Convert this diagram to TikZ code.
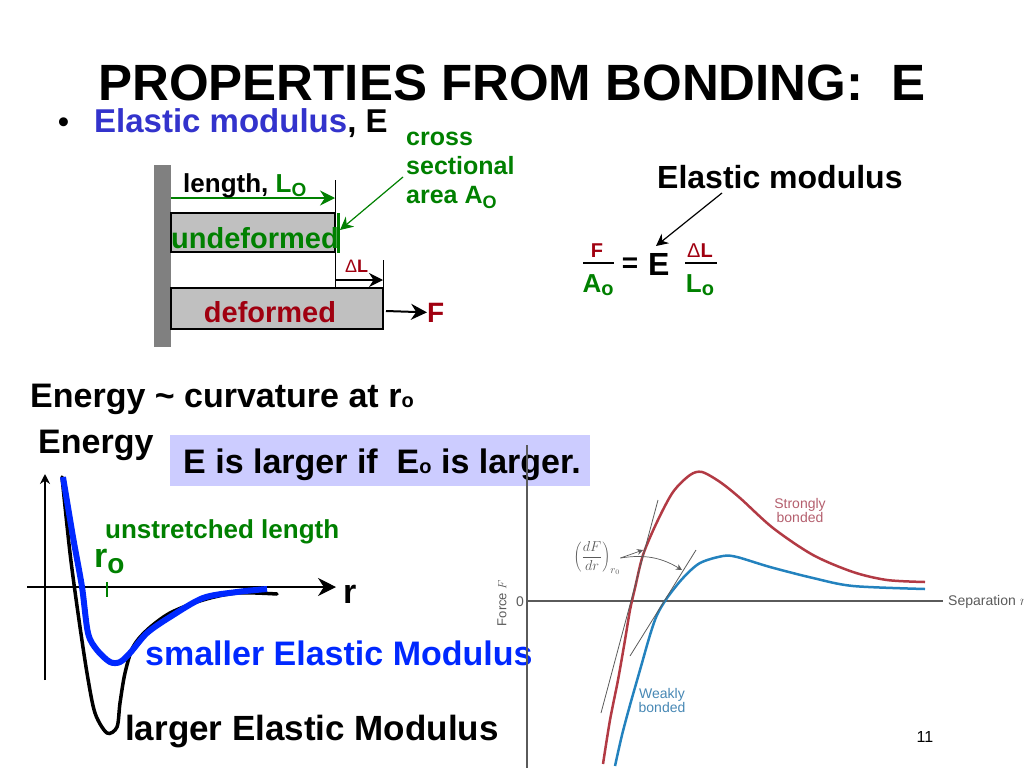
\documentclass[tikz,border=0pt]{standalone}
\usepackage{fontspec}
\setmainfont{Liberation Sans}
\usepackage{xcolor}
\usetikzlibrary{arrows,arrows.meta,positioning}
\definecolor{titleblue}{RGB}{51,51,204}
\definecolor{smallblue}{RGB}{0,40,255}
\definecolor{dgreen}{RGB}{0,128,0}
\definecolor{dred}{RGB}{160,0,16}
\definecolor{lav}{RGB}{204,204,255}
\definecolor{barfill}{RGB}{192,192,192}
\definecolor{wallfill}{RGB}{128,128,128}
\definecolor{sred}{RGB}{178,58,68}
\definecolor{sblue}{RGB}{35,130,190}
\definecolor{axgray}{RGB}{90,90,90}
\definecolor{stxt}{RGB}{180,95,110}
\definecolor{wtxt}{RGB}{70,135,180}
\newcommand{\fsz}[1]{\fontsize{#1}{#1}\selectfont}

\begin{document}
\begin{tikzpicture}[x=1pt,y=-1pt,>=stealth',
  txt/.style={inner sep=0pt,anchor=base west,font=\bfseries\fsz{#1}},
  plain/.style={inner sep=0pt,font=\fsz{#1}},
  bar/.style={draw=black,line width=1.2pt,fill=barfill},
  head/.style={-{Stealth[length=#1,width=#1]}}]
\useasboundingbox (0,0) rectangle (1024,768);
%%%TITLE
\node[txt=51,anchor=base] (title) at (512,100) {PROPERTIES FROM BONDING:\ \ E};
\node[txt=31] (bullet) at (58,132) {\textbullet};
\node[txt=33] (modulus) at (94,132) {\textcolor{titleblue}{Elastic modulus}, E};
%%%BARS
\fill[wallfill] (154,165) rectangle (171,347);
\draw[bar] (171,213) rectangle (335,252);
\draw[bar] (171,288) rectangle (383,329);
\draw[line width=1pt] (335,180) -- (335,288);
\draw[line width=1pt] (383,260) -- (383,329);
\coordinate (lenA) at (171,198);
\coordinate (lenB) at (335,198);
\draw[dgreen,line width=1.5pt,head=15pt] (lenA) -- (lenB);
\draw[dgreen,line width=3pt] (338,213) -- (338,253);
\node[txt=26] (len) at (183,192) {length, \textcolor{dgreen}{L\raisebox{-4pt}{\fsz{19}O}}};
\node[txt=29,text=dgreen] (undef) at (171,248) {undeformed};
\node[txt=29,text=dred,anchor=base] (def) at (270,322) {deformed};
\node[txt=18,text=dred] (dL) at (345,272) {{\mdseries Δ}L};
\coordinate (dLa) at (335,280);
\coordinate (dLb) at (383,280);
\draw[line width=1.2pt,head=14pt] (dLa) -- (dLb);
\node[txt=28,text=dred] (F) at (427,322) {F};
\coordinate (Fa) at (386,311);
\draw[line width=2pt,head=16pt] (Fa) -- (F.west);
\node[txt=25,text=dgreen,align=left] (area) at (406,203) {cross\\[4pt]sectional\\[4pt]area A\raisebox{-5pt}{\fsz{18}O}};
\coordinate (areaTail) at (403,177);
\coordinate (sect) at (340,230);
\draw[dgreen,line width=1.2pt,head=13pt] (areaTail) -- (sect);
%%%FORMULA
\node[txt=32] (elmod) at (657,188) {Elastic modulus};
\node[txt=20,text=dred,anchor=base] (Fnum) at (597,257) {F};
\node[txt=26,text=dgreen,anchor=base] (Aden) at (598,292) {A\raisebox{-3pt}{\fsz{20}o}};
\draw[line width=2.5pt] (583,263) -- (614,263);
\node[txt=28,anchor=base] (eq) at (630,272) {=};
\node[txt=32] (Emod) at (648,275) {E};
\node[txt=20,text=dred,anchor=base] (dLnum) at (700,257) {{\mdseries Δ}L};
\node[txt=26,text=dgreen,anchor=base] (Lden) at (700,292) {L\raisebox{-3pt}{\fsz{20}o}};
\draw[line width=2.5pt] (685,263) -- (717,263);
\coordinate (elTail) at (722,193);
\coordinate (elTip) at (656,246);
\draw[line width=1.2pt,head=12pt] (elTail) -- (elTip);
%%%ENERGY CURVE
\node[txt=34] (curv) at (30,407) {Energy \textasciitilde{} curvature at r{\fsz{20}o}};
\node[txt=34] (energy) at (38,453) {Energy};
\node[fill=lav,minimum width=420pt,minimum height=51pt,anchor=north west,inner sep=0pt] (note) at (170,435) {};
\node[txt=34] (notetxt) at (183,473) {E is larger if\ \ E{\fsz{20}o} is larger.};
\coordinate (yb) at (45,680);
\coordinate (yt) at (45,474);
\draw[line width=1.2pt,head=10pt] (yb) -- (yt);
\coordinate (xl) at (27,587);
\coordinate (xr) at (336,587);
\draw[line width=1.2pt,head=18pt] (xl) -- (xr);
\node[txt=34] (r) at (343,603) {r};
\node[txt=26,text=dgreen] (unstr) at (105,538) {unstretched length};
\node[txt=34,text=dgreen] (ro) at (94,567) {r\raisebox{-6pt}{\fsz{28}o}};
\draw[dgreen,line width=1.5pt] (107,582) -- (107,597);
\draw[line width=3.5pt,line cap=round] plot[smooth] coordinates {(62,477) (70,553) (78,613) (87,673) (95,713) (107,733) (117,727) (120,703) (125,673) (133,647) (147,630) (170,613) (203,600) (237,593) (277,594)};
\draw[smallblue,line width=6pt] plot[smooth] coordinates {(63,477) (73,537) (82,587) (88,633) (97,650) (110,662) (120,662) (130,653) (147,633) (170,617) (203,598) (237,592) (267,589)};
\node[txt=34,text=smallblue] (small) at (145,665) {smaller Elastic Modulus};
\node[txt=35] (large) at (125,740) {larger Elastic Modulus};
%%%FORCE PLOT
\draw[axgray,line width=1.2pt] (527,445) -- (527,768);
\draw[axgray,line width=1.2pt] (527,601) -- (943,601);
\node[plain=14,text=axgray] (zero) at (520,602) {0};
\node[plain=13,text=axgray,rotate=90] (force) at (502,603) {Force $F$};
\node[plain=14,text=axgray,anchor=west] (sep) at (948,602) {Separation $r$};
\draw[sred,line width=2.5pt] plot[smooth] coordinates {(603,764) (610,720) (618,680) (625,640) (630,610) (635,588) (643,555) (657,522) (673,492) (690,475) (702,472) (720,482) (740,498) (773,528) (813,555) (853,572) (887,580) (925,582)};
\draw[sblue,line width=2.5pt] plot[smooth] coordinates {(615,766) (622,735) (630,705) (640,670) (650,635) (657,615) (667,598) (683,578) (700,563) (723,556) (737,557) (770,567) (813,578) (853,586) (925,589)};
\draw[axgray,line width=0.8pt] (601,713) -- (658,500);
\draw[axgray,line width=0.8pt] (630,656) -- (696,550);
\node[plain=15,text=axgray] (slope) at (597,558) {$\displaystyle\left(\frac{dF}{dr}\right)_{r_0}$};
\coordinate (tipS) at (643,550);
\coordinate (tipW) at (682,570);
\draw[axgray,line width=0.7pt,head=6pt] (slope.east) -- (tipS);
\draw[axgray,line width=0.7pt,head=6pt] (slope.east) to[bend left=20] (tipW);
\node[plain=14,text=stxt,align=center] (strong) at (800,510) {Strongly\\bonded};
\node[plain=14,text=wtxt,align=center] (weak) at (662,700) {Weakly\\bonded};
\node[plain=16] (page) at (925,737) {11};
\end{tikzpicture}
\end{document}
